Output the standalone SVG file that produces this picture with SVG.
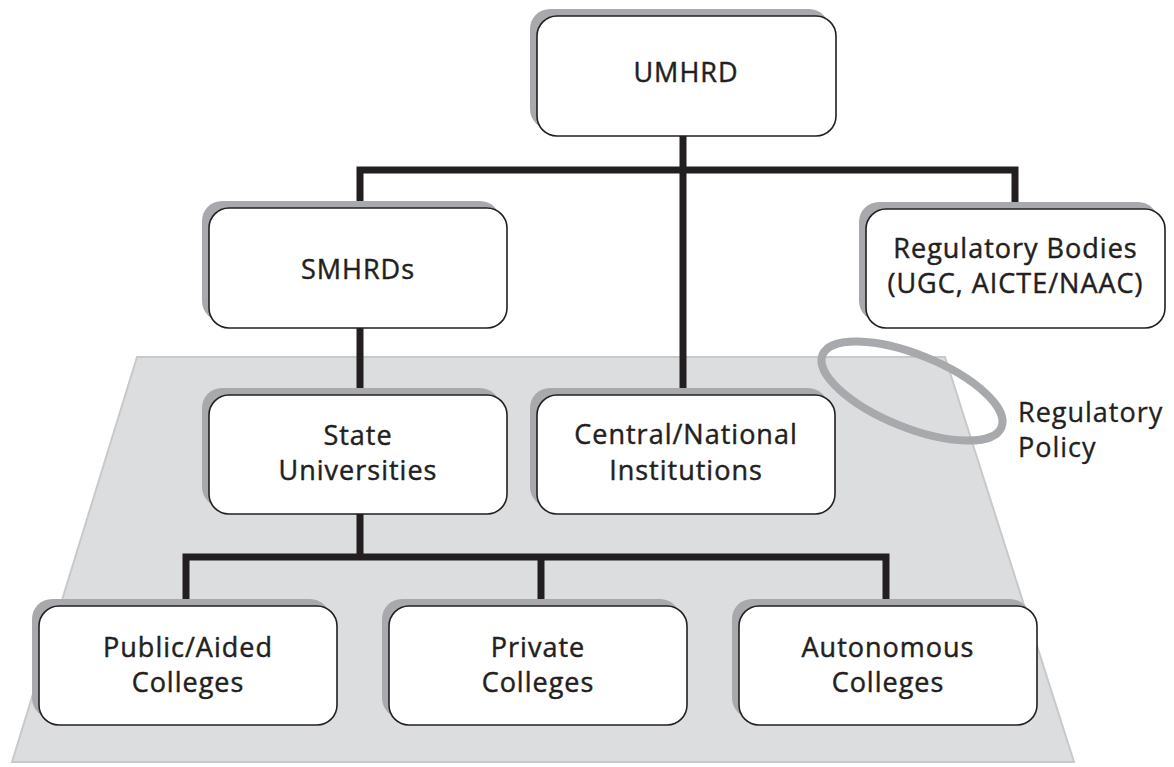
<svg xmlns="http://www.w3.org/2000/svg" width="1174" height="767" viewBox="0 0 1174 767">
<style>
.sh{fill:#a7a9ac;}
.bx{fill:#ffffff;stroke:#231f20;stroke-width:1.6;}
.t{font-family:"Open Sans","Liberation Sans",sans-serif;font-size:27px;fill:#231f20;stroke:#231f20;stroke-width:0.45;text-anchor:middle;letter-spacing:1px;}
.tl{font-family:"Open Sans","Liberation Sans",sans-serif;font-size:27px;fill:#231f20;stroke:#231f20;stroke-width:0.35;letter-spacing:1px;}
.cn{fill:none;stroke:#231f20;stroke-width:7;stroke-linejoin:miter;stroke-linecap:butt;}
</style>
<rect x="0" y="0" width="1174" height="767" fill="#ffffff"/>
<g id="policy-area">
<polygon points="137,357 945,357 1074,762 12,762" fill="#dcdddf" stroke="#c8c9cb" stroke-width="2"/>
<ellipse cx="912" cy="391" rx="96.5" ry="36.5" transform="rotate(22 912 391)" fill="none" stroke="#a7a9ac" stroke-width="8"/>
<text class="tl" x="1018" y="422">Regulatory</text>
<text class="tl" x="1018" y="457">Policy</text>
</g>
<g id="connectors">
<path class="cn" d="M683,136 V395"/>
<path class="cn" d="M360,209 V170 H1015 V209"/>
<path class="cn" d="M360,328 V395"/>
<path class="cn" d="M360,514 V557"/>
<path class="cn" d="M186,606 V557 H886 V606"/>
<path class="cn" d="M541,557 V606"/>
</g>
<g id="umhrd">
<rect class="sh" x="530" y="9" width="299" height="120" rx="20"/>
<rect class="bx" x="537" y="16" width="299" height="120" rx="20"/>
<text class="t" x="686" y="82">UMHRD</text>
</g>
<g id="smhrds">
<rect class="sh" x="202" y="201" width="298" height="120" rx="20"/>
<rect class="bx" x="209" y="208" width="298" height="120" rx="20"/>
<text class="t" x="358" y="279">SMHRDs</text>
</g>
<g id="regulatory-bodies">
<rect class="sh" x="859" y="202" width="299" height="119" rx="20"/>
<rect class="bx" x="866" y="209" width="299" height="119" rx="20"/>
<text class="t" x="1015.5" y="258">Regulatory Bodies</text>
<text class="t" x="1015.5" y="293">(UGC, AICTE/NAAC)</text>
</g>
<g id="state-universities">
<rect class="sh" x="202" y="388" width="298" height="119" rx="20"/>
<rect class="bx" x="209" y="395" width="298" height="119" rx="20"/>
<text class="t" x="358" y="445">State</text>
<text class="t" x="358" y="480">Universities</text>
</g>
<g id="central-national">
<rect class="sh" x="530" y="388" width="298" height="119" rx="20"/>
<rect class="bx" x="537" y="395" width="298" height="119" rx="20"/>
<text class="t" x="686" y="444">Central/National</text>
<text class="t" x="686" y="480">Institutions</text>
</g>
<g id="public-aided">
<rect class="sh" x="32" y="599" width="298" height="119" rx="20"/>
<rect class="bx" x="39" y="606" width="298" height="119" rx="20"/>
<text class="t" x="188" y="657">Public/Aided</text>
<text class="t" x="188" y="692">Colleges</text>
</g>
<g id="private">
<rect class="sh" x="382" y="599" width="298" height="119" rx="20"/>
<rect class="bx" x="389" y="606" width="298" height="119" rx="20"/>
<text class="t" x="538" y="657">Private</text>
<text class="t" x="538" y="692">Colleges</text>
</g>
<g id="autonomous">
<rect class="sh" x="732" y="599" width="298" height="119" rx="20"/>
<rect class="bx" x="739" y="606" width="298" height="119" rx="20"/>
<text class="t" x="888" y="657">Autonomous</text>
<text class="t" x="888" y="692">Colleges</text>
</g>
</svg>
